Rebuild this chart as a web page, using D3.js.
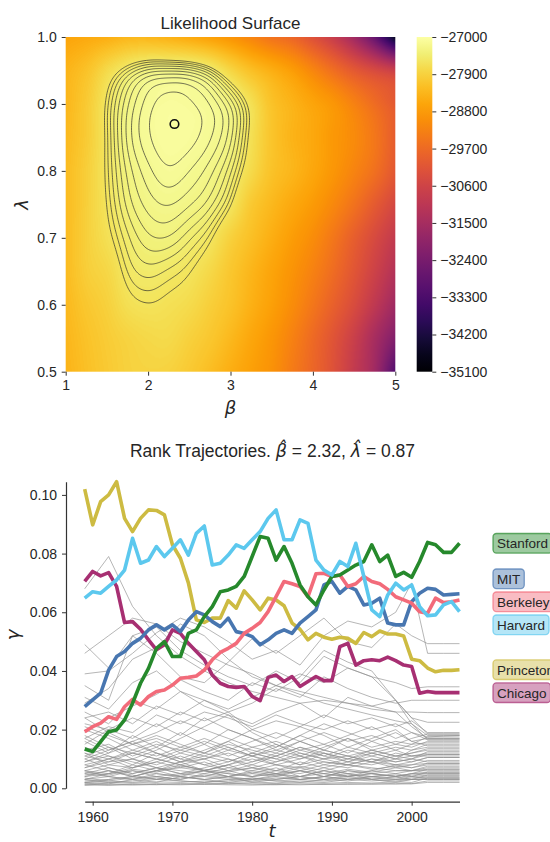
<!DOCTYPE html>
<html><head><meta charset="utf-8">
<script src="https://cdn.jsdelivr.net/npm/d3@7"></script>
<style>
body{margin:0;background:#fff;}
svg text{font-family:"Liberation Sans",Arial,sans-serif;fill:#262626;}
.math{font-family:"DejaVu Sans",sans-serif;font-style:italic;}
</style></head><body>
<svg id="chart" width="550" height="842" xmlns="http://www.w3.org/2000/svg"></svg>
<script>
// ================= DATA =================
// --- Likelihood surface (log-likelihood read from the colour field) ---
const betaGrid   = [1,1.25,1.5,1.75,2,2.25,2.5,2.75,3,3.25,3.5,3.75,4,4.25,4.5,4.75,5];
const lambdaGrid = [0.5,0.55,0.6,0.65,0.7,0.75,0.8,0.85,0.9,0.95,1.0];
// one row per lambda (0.5 .. 1.0), one column per beta (1 .. 5)
const logLik = [
 [-28377,-28175,-28013,-27891,-27850,-27875,-28013,-28215,-28458,-28701,-28944,-29349,-29754,-30240,-30888,-31617,-33156],
 [-28337,-28134,-27972,-27850,-27770,-27750,-27891,-28053,-28296,-28580,-28863,-29228,-29673,-30159,-30726,-31455,-32225],
 [-28296,-28050,-27891,-27665,-27602,-27650,-27730,-27920,-28134,-28418,-28701,-29025,-29430,-29876,-30362,-30969,-31617],
 [-28255,-27940,-27790,-27530,-27460,-27505,-27585,-27770,-28053,-28337,-28620,-28904,-29228,-29633,-30119,-30645,-31212],
 [-28255,-27910,-27657,-27448,-27335,-27325,-27420,-27560,-27885,-28175,-28458,-28742,-29025,-29430,-29916,-30402,-30888],
 [-28255,-27920,-27590,-27355,-27245,-27208,-27260,-27350,-27565,-28010,-28296,-28540,-28782,-29106,-29511,-29997,-30483],
 [-28255,-27930,-27560,-27305,-27178,-27110,-27160,-27247,-27415,-27745,-28134,-28337,-28580,-28863,-29187,-29552,-30078],
 [-28290,-27980,-27555,-27246,-27112,-27056,-27076,-27148,-27297,-27655,-28100,-28370,-28560,-28830,-29065,-29430,-29957],
 [-28337,-28000,-27555,-27275,-27130,-27070,-27095,-27155,-27315,-27650,-28134,-28377,-28620,-28863,-29228,-29633,-30038],
 [-28377,-28134,-27750,-27470,-27310,-27285,-27300,-27450,-27810,-28175,-28458,-28742,-29147,-29592,-30038,-30402,-30726],
 [-28620,-28540,-28458,-28337,-28337,-28418,-28540,-28701,-28904,-29187,-29511,-29754,-30240,-30807,-31617,-32832,-34650]
];
const contourLevels = [-27600,-27545,-27490,-27435,-27380,-27325,-27270,-27215,-27160,-27105];
const colorDomain   = [-35100,-27000];
const colorbarTicks = [-27000,-27900,-28800,-29700,-30600,-31500,-32400,-33300,-34200,-35100];
const betaTicks     = [1,2,3,4,5];
const lambdaTicks   = [0.5,0.6,0.7,0.8,0.9,1.0];
const mle = {beta:2.32, lambda:0.87};

// --- Rank trajectories ---
const years = [1959,1960,1961,1962,1963,1964,1965,1966,1967,1968,1969,1970,1971,1972,1973,1974,1975,1976,1977,1978,1979,1980,1981,1982,1983,1984,1985,1986,1987,1988,1989,1990,1991,1992,1993,1994,1995,1996,1997,1998,1999,2000,2001,2002,2003,2004,2005,2006];
const yearTicks = [1960,1970,1980,1990,2000];
const gammaTicks = [0,0.02,0.04,0.06,0.08,0.10];
const schools = ["Stanford","MIT","Berkeley","Harvard","Princeton","Chicago"];
const schoolColors = ["#26892c","#4876b0","#f26b7a","#5cc8ee","#cdbb42","#a72f72"];
const stanford  = [0.0134,0.0125,0.0159,0.0193,0.0199,0.0233,0.0290,0.0358,0.0409,0.0477,0.0500,0.0449,0.0449,0.0528,0.0540,0.0585,0.0619,0.0670,0.0676,0.0688,0.0722,0.0790,0.0858,0.0852,0.0778,0.0824,0.0767,0.0693,0.0653,0.0625,0.0676,0.0722,0.0727,0.0744,0.0761,0.0773,0.0830,0.0773,0.0795,0.0722,0.0736,0.0719,0.0773,0.0838,0.0830,0.0804,0.0804,0.0835];
const mit       = [0.0278,0.0301,0.0324,0.0403,0.0449,0.0466,0.0494,0.0511,0.0540,0.0557,0.0540,0.0557,0.0534,0.0574,0.0602,0.0591,0.0568,0.0551,0.0580,0.0534,0.0528,0.0517,0.0489,0.0506,0.0528,0.0540,0.0528,0.0563,0.0585,0.0608,0.0693,0.0705,0.0665,0.0688,0.0676,0.0625,0.0631,0.0648,0.0563,0.0557,0.0557,0.0636,0.0665,0.0682,0.0678,0.0659,0.0661,0.0663];
const berkeley  = [0.0193,0.0210,0.0222,0.0244,0.0235,0.0278,0.0303,0.0284,0.0313,0.0330,0.0335,0.0352,0.0375,0.0378,0.0383,0.0403,0.0438,0.0463,0.0477,0.0494,0.0528,0.0545,0.0565,0.0602,0.0653,0.0705,0.0697,0.0688,0.0653,0.0731,0.0733,0.0722,0.0727,0.0688,0.0697,0.0722,0.0705,0.0697,0.0678,0.0653,0.0642,0.0631,0.0602,0.0597,0.0648,0.0633,0.0636,0.0642];
const harvard   = [0.0648,0.0670,0.0665,0.0688,0.0710,0.0744,0.0852,0.0767,0.0778,0.0824,0.0790,0.0818,0.0847,0.0795,0.0869,0.0894,0.0761,0.0767,0.0795,0.0830,0.0818,0.0847,0.0875,0.0920,0.0949,0.0847,0.0847,0.0915,0.0903,0.0778,0.0744,0.0727,0.0773,0.0756,0.0835,0.0722,0.0608,0.0585,0.0659,0.0699,0.0676,0.0693,0.0619,0.0588,0.0591,0.0625,0.0636,0.0602];
const princeton = [0.1020,0.0898,0.0977,0.1000,0.1045,0.0920,0.0875,0.0920,0.0949,0.0947,0.0932,0.0830,0.0784,0.0700,0.0574,0.0565,0.0580,0.0580,0.0640,0.0614,0.0673,0.0642,0.0608,0.0648,0.0642,0.0622,0.0563,0.0542,0.0506,0.0528,0.0515,0.0508,0.0515,0.0511,0.0494,0.0531,0.0517,0.0536,0.0526,0.0526,0.0519,0.0440,0.0435,0.0410,0.0397,0.0402,0.0402,0.0404];
const chicago   = [0.0705,0.0739,0.0724,0.0735,0.0688,0.0565,0.0568,0.0542,0.0506,0.0472,0.0489,0.0540,0.0528,0.0494,0.0466,0.0438,0.0386,0.0358,0.0347,0.0344,0.0347,0.0313,0.0299,0.0378,0.0386,0.0364,0.0381,0.0347,0.0364,0.0381,0.0367,0.0367,0.0483,0.0494,0.0420,0.0435,0.0438,0.0435,0.0447,0.0435,0.0420,0.0415,0.0324,0.0330,0.0326,0.0326,0.0326,0.0326];
const schoolSeries = [stanford,mit,berkeley,harvard,princeton,chicago];
const drawOrder = ["Princeton","Chicago","MIT","Berkeley","Stanford","Harvard"];

// other departments (grey), sampled years
const grayYears = [1959,1962,1965,1968,1971,1974,1977,1980,1983,1986,1989,1992,1995,1998,2000,2002,2004,2006];
const grayLines = [
 [0.068,0.079,0.062,0.052,0.045,0.040,0.036,0.033,0.031,0.029,0.030,0.029,0.027,0.026,0.026,0.0258,0.0258,0.0258],
 [0.049,0.041,0.052,0.046,0.038,0.036,0.043,0.051,0.046,0.052,0.058,0.050,0.048,0.056,0.052,0.0493,0.0493,0.0493],
 [0.039,0.040,0.046,0.053,0.058,0.055,0.050,0.044,0.047,0.042,0.052,0.057,0.055,0.060,0.070,0.046,0.046,0.046],
 [0.035,0.030,0.052,0.055,0.047,0.042,0.038,0.035,0.040,0.036,0.045,0.041,0.038,0.036,0.034,0.0346,0.0346,0.0346],
 [0.031,0.027,0.036,0.040,0.033,0.030,0.026,0.029,0.034,0.031,0.038,0.034,0.031,0.029,0.030,0.030,0.030,0.030],
 [0.026,0.022,0.030,0.027,0.033,0.028,0.025,0.022,0.026,0.029,0.024,0.031,0.028,0.030,0.024,0.0225,0.0225,0.0225],
 [0.022,0.020,0.024,0.021,0.026,0.023,0.026,0.020,0.023,0.021,0.025,0.022,0.024,0.021,0.023,0.019,0.019,0.019],
 [0.029,0.034,0.044,0.048,0.056,0.052,0.044,0.038,0.035,0.032,0.029,0.027,0.025,0.023,0.022,0.018,0.018,0.018],
 [0.019,0.024,0.028,0.032,0.037,0.033,0.030,0.036,0.033,0.038,0.047,0.043,0.040,0.030,0.024,0.0185,0.0185,0.0185],
 [0.017,0.021,0.019,0.025,0.022,0.026,0.024,0.021,0.025,0.022,0.020,0.023,0.020,0.022,0.019,0.0175,0.0175,0.0175],
 [0.046,0.052,0.058,0.056,0.050,0.046,0.042,0.039,0.035,0.033,0.031,0.029,0.028,0.026,0.021,0.017,0.017,0.017],
 [0.024,0.026,0.022,0.028,0.025,0.030,0.027,0.031,0.035,0.039,0.036,0.041,0.038,0.030,0.022,0.0165,0.0165,0.0165],
 [0.020,0.017,0.013,0.016,0.012,0.015,0.011,0.014,0.012,0.016,0.013,0.017,0.014,0.016,0.015,0.0175,0.0178,0.018],
 [0.016,0.012,0.018,0.014,0.019,0.015,0.020,0.017,0.014,0.018,0.015,0.012,0.016,0.019,0.016,0.017,0.017,0.017],
 [0.013,0.015,0.011,0.014,0.010,0.013,0.016,0.012,0.015,0.011,0.014,0.017,0.013,0.015,0.014,0.016,0.016,0.016],
 [0.011,0.009,0.012,0.010,0.013,0.011,0.009,0.012,0.010,0.013,0.011,0.014,0.012,0.010,0.013,0.015,0.015,0.015],
 [0.009,0.011,0.008,0.012,0.009,0.010,0.012,0.009,0.011,0.008,0.012,0.010,0.013,0.011,0.012,0.0135,0.0135,0.0135],
 [0.007,0.009,0.010,0.008,0.011,0.008,0.010,0.007,0.009,0.011,0.008,0.010,0.009,0.012,0.011,0.012,0.012,0.012],
 [0.006,0.005,0.008,0.006,0.007,0.009,0.006,0.008,0.006,0.009,0.007,0.009,0.008,0.010,0.009,0.0105,0.0105,0.0105],
 [0.005,0.007,0.005,0.007,0.006,0.005,0.007,0.006,0.008,0.006,0.008,0.007,0.009,0.007,0.008,0.0095,0.0095,0.0095],
 [0.004,0.005,0.006,0.004,0.005,0.006,0.005,0.004,0.006,0.005,0.007,0.005,0.006,0.008,0.007,0.0085,0.0085,0.0085],
 [0.003,0.004,0.003,0.005,0.004,0.003,0.004,0.005,0.004,0.006,0.004,0.006,0.005,0.006,0.006,0.0075,0.0075,0.0075],
 [0.0025,0.003,0.004,0.003,0.0035,0.004,0.003,0.0035,0.003,0.004,0.005,0.004,0.005,0.004,0.005,0.0065,0.0065,0.0065],
 [0.002,0.0025,0.002,0.003,0.0025,0.002,0.003,0.0025,0.0035,0.003,0.004,0.003,0.004,0.0045,0.004,0.0055,0.0055,0.0055],
 [0.0015,0.002,0.0018,0.0022,0.002,0.0025,0.002,0.0022,0.0018,0.0025,0.002,0.003,0.0025,0.003,0.003,0.0045,0.0045,0.0045],
 [0.0012,0.0015,0.0013,0.0016,0.0014,0.0017,0.0015,0.0018,0.0016,0.0019,0.0017,0.002,0.0018,0.0022,0.002,0.0035,0.0035,0.0035],
 [0.001,0.0012,0.0011,0.0013,0.0012,0.0014,0.0012,0.0011,0.0013,0.0012,0.0014,0.0013,0.0015,0.0014,0.0016,0.0025,0.0025,0.0025],
 [0.018,0.014,0.010,0.007,0.009,0.006,0.008,0.005,0.007,0.004,0.006,0.005,0.004,0.005,0.004,0.0045,0.0045,0.0045],
 [0.021,0.018,0.015,0.012,0.010,0.008,0.006,0.007,0.005,0.006,0.004,0.005,0.003,0.004,0.003,0.003,0.003,0.003],
 [0.015,0.020,0.017,0.022,0.018,0.024,0.020,0.017,0.013,0.011,0.009,0.008,0.007,0.006,0.006,0.0065,0.0065,0.0065],
 [0.012,0.008,0.010,0.013,0.017,0.021,0.025,0.019,0.015,0.012,0.010,0.011,0.009,0.008,0.008,0.0085,0.0085,0.0085],
 [0.008,0.006,0.004,0.006,0.009,0.012,0.016,0.020,0.017,0.021,0.018,0.014,0.017,0.020,0.016,0.0145,0.0145,0.0145],
 [0.010,0.013,0.016,0.019,0.023,0.020,0.017,0.014,0.016,0.013,0.015,0.018,0.021,0.017,0.019,0.0165,0.0165,0.0165],
 [0.005,0.004,0.006,0.005,0.004,0.006,0.008,0.011,0.014,0.018,0.022,0.019,0.016,0.013,0.011,0.011,0.011,0.011],
 [0.003,0.005,0.007,0.010,0.008,0.006,0.005,0.004,0.005,0.003,0.004,0.006,0.005,0.004,0.005,0.005,0.005,0.005],
 [0.014,0.011,0.009,0.007,0.005,0.007,0.009,0.012,0.010,0.008,0.010,0.013,0.011,0.009,0.010,0.0125,0.0125,0.0125],
 [0.007,0.010,0.013,0.011,0.014,0.017,0.014,0.011,0.008,0.010,0.012,0.009,0.012,0.014,0.013,0.014,0.014,0.014],
 [0.002,0.0015,0.003,0.002,0.004,0.003,0.002,0.003,0.0025,0.002,0.003,0.0025,0.0035,0.003,0.0035,0.004,0.004,0.004],
 [0.0045,0.006,0.0045,0.003,0.0045,0.006,0.004,0.0055,0.0045,0.006,0.005,0.0065,0.0055,0.007,0.006,0.007,0.007,0.007],
 [0.009,0.012,0.015,0.018,0.015,0.012,0.010,0.008,0.011,0.014,0.011,0.009,0.011,0.013,0.015,0.0155,0.0155,0.0155],
 [0.006,0.008,0.007,0.009,0.007,0.006,0.008,0.010,0.008,0.007,0.009,0.008,0.010,0.009,0.010,0.009,0.009,0.009],
 [0.0035,0.0025,0.0035,0.004,0.003,0.0045,0.0035,0.003,0.0045,0.004,0.003,0.0045,0.004,0.0035,0.0045,0.005,0.005,0.005],
 [0.012,0.010,0.007,0.009,0.012,0.010,0.013,0.011,0.009,0.012,0.010,0.008,0.010,0.008,0.009,0.0105,0.0105,0.0105],
 [0.008,0.010,0.012,0.010,0.008,0.010,0.007,0.009,0.012,0.010,0.013,0.011,0.009,0.011,0.010,0.0115,0.0115,0.0115],
 [0.004,0.006,0.004,0.006,0.008,0.006,0.004,0.006,0.005,0.007,0.005,0.004,0.006,0.005,0.006,0.006,0.006,0.006],
 [0.010,0.007,0.005,0.007,0.005,0.004,0.006,0.004,0.005,0.004,0.006,0.004,0.005,0.004,0.005,0.0055,0.0055,0.0055],
 [0.006,0.004,0.003,0.004,0.003,0.005,0.004,0.003,0.004,0.003,0.004,0.003,0.004,0.003,0.004,0.0035,0.0035,0.0035],
 [0.002,0.003,0.004,0.006,0.004,0.003,0.004,0.002,0.003,0.004,0.003,0.004,0.003,0.002,0.003,0.003,0.003,0.003],
 [0.017,0.013,0.016,0.012,0.009,0.011,0.014,0.011,0.013,0.016,0.013,0.011,0.013,0.011,0.012,0.013,0.013,0.013],
 [0.011,0.014,0.012,0.015,0.013,0.016,0.013,0.016,0.019,0.016,0.019,0.016,0.018,0.015,0.017,0.0185,0.0185,0.0185],
 [0.0055,0.0045,0.0065,0.0055,0.0075,0.0065,0.0055,0.007,0.006,0.0075,0.006,0.008,0.0065,0.0075,0.007,0.008,0.008,0.008],
 [0.0015,0.001,0.0015,0.0012,0.0016,0.0013,0.0017,0.0014,0.0012,0.0015,0.0013,0.0016,0.0014,0.0017,0.0015,0.002,0.002,0.002],
 [0.024,0.019,0.015,0.017,0.014,0.012,0.015,0.013,0.011,0.014,0.012,0.010,0.012,0.010,0.011,0.0115,0.0115,0.0115],
 [0.003,0.002,0.0025,0.0035,0.0025,0.002,0.0025,0.0035,0.0025,0.003,0.0025,0.0035,0.003,0.0025,0.003,0.0035,0.0035,0.0035]
];

// ================= DRAWING =================
const svg = d3.select("#chart");
const ink = "#262626";

// ---------- Top panel: likelihood surface ----------
const xB = d3.scaleLinear().domain([1,5]).range([65.7,395.3]);
const yL = d3.scaleLinear().domain([0.5,1.0]).range([371.7,37]);

const nc = betaGrid.length, nr = lambdaGrid.length;
function gridAt(i,j){
  if(i<0) return 2*gridAt(0,j)-gridAt(1,j);
  if(i>=nc) return 2*gridAt(nc-1,j)-gridAt(nc-2,j);
  if(j<0) return 2*gridAt(i,0)-gridAt(i,1);
  if(j>=nr) return 2*gridAt(i,nr-1)-gridAt(i,nr-2);
  return logLik[j][i];
}
function cr(p0,p1,p2,p3,t){return p1+0.5*t*(p2-p0+t*(2*p0-5*p1+4*p2-p3+t*(3*(p1-p2)+p3-p0)));}
const bStep = betaGrid[1]-betaGrid[0], lStep = lambdaGrid[1]-lambdaGrid[0];
function surf(b,l){
  const gx=(b-betaGrid[0])/bStep, gy=(l-lambdaGrid[0])/lStep;
  const ix=Math.max(0,Math.min(nc-2,Math.floor(gx))), iy=Math.max(0,Math.min(nr-2,Math.floor(gy)));
  const tx=gx-ix, ty=gy-iy, r=[];
  for(let k=-1;k<=2;k++) r.push(cr(gridAt(ix-1,iy+k),gridAt(ix,iy+k),gridAt(ix+1,iy+k),gridAt(ix+2,iy+k),tx));
  return cr(r[0],r[1],r[2],r[3],ty);
}

// raster of the surface
const hx0=xB(betaGrid[0]), hx1=xB(betaGrid[nc-1]), hy0=yL(lambdaGrid[nr-1]), hy1=yL(lambdaGrid[0]);
const cw=Math.round(hx1-hx0), chh=Math.round(hy1-hy0);
const canvas=document.createElement("canvas"); canvas.width=cw; canvas.height=chh;
const ctx=canvas.getContext("2d"); const im=ctx.createImageData(cw,chh);
const lut=d3.range(256).map(i=>d3.rgb(d3.interpolateInferno(i/255)));
for(let py=0;py<chh;py++){
  const l=yL.invert(hy0+(py+0.5)*(hy1-hy0)/chh);
  for(let px=0;px<cw;px++){
    const b=xB.invert(hx0+(px+0.5)*(hx1-hx0)/cw);
    let t=(surf(b,l)-colorDomain[0])/(colorDomain[1]-colorDomain[0]);
    t=Math.max(0,Math.min(1,t));
    const c=lut[Math.round(t*255)], o=4*(py*cw+px);
    im.data[o]=c.r; im.data[o+1]=c.g; im.data[o+2]=c.b; im.data[o+3]=255;
  }
}
ctx.putImageData(im,0,0);
svg.append("image").attr("x",hx0).attr("y",hy0).attr("width",hx1-hx0).attr("height",hy1-hy0)
  .attr("preserveAspectRatio","none").attr("href",canvas.toDataURL());

// contour lines (on a finely resampled, lightly smoothed copy of the surface)
const nx=321, ny=201;
const b0=betaGrid[0], l0=lambdaGrid[0];
const db=(betaGrid[nc-1]-b0)/(nx-1), dl=(lambdaGrid[nr-1]-l0)/(ny-1);
const vals=new Float64Array(nx*ny);
for(let j=0;j<ny;j++) for(let i=0;i<nx;i++) vals[i+j*nx]=surf(b0+i*db,l0+j*dl);
function boxBlur(a,w,h,r){
  const tmp=new Float64Array(a.length);
  for(let pass=0;pass<3;pass++){
    for(let j=0;j<h;j++) for(let i=0;i<w;i++){let s=0,n=0;for(let k=-r;k<=r;k++){const ii=i+k;if(ii>=0&&ii<w){s+=a[ii+j*w];n++;}}tmp[i+j*w]=s/n;}
    for(let j=0;j<h;j++) for(let i=0;i<w;i++){let s=0,n=0;for(let k=-r;k<=r;k++){const jj=j+k;if(jj>=0&&jj<h){s+=tmp[i+jj*w];n++;}}a[i+j*w]=s/n;}
  }
}
boxBlur(vals,nx,ny,5);
const cont=d3.contours().size([nx,ny]).thresholds(contourLevels)(vals);
const proj=d3.geoTransform({point(x,y){this.stream.point(xB(b0+(x-0.5)*db),yL(l0+(y-0.5)*dl));}});
svg.append("g").selectAll("path").data(cont).join("path")
  .attr("d",d3.geoPath(proj)).attr("fill","none")
  .attr("stroke","#2a2a2a").attr("stroke-width",0.8).attr("stroke-opacity",0.85);

// maximum-likelihood marker
svg.append("circle").attr("cx",xB(mle.beta)).attr("cy",yL(mle.lambda)).attr("r",4.3)
  .attr("fill","none").attr("stroke","#111").attr("stroke-width",1.6);

// axes of top panel
function styleAxis(g){
  g.selectAll("text").attr("font-size",14).attr("font-family","Liberation Sans, Arial, sans-serif").attr("fill",ink);
  g.selectAll("line").attr("stroke","#333");
}
svg.append("g").attr("transform",`translate(${hx0},0)`)
  .call(d3.axisLeft(yL).tickValues(lambdaTicks).tickFormat(d3.format(".1f")).tickSize(4).tickPadding(5))
  .call(g=>g.select(".domain").remove()).call(styleAxis);
svg.append("g").attr("transform",`translate(0,${hy1})`)
  .call(d3.axisBottom(xB).tickValues(betaTicks).tickFormat(d3.format("d")).tickSize(4).tickPadding(4))
  .call(g=>g.select(".domain").remove()).call(styleAxis);

svg.append("text").attr("x",(hx0+hx1)/2).attr("y",28.5).attr("text-anchor","middle")
  .attr("font-size",17).text("Likelihood Surface");
svg.append("text").attr("class","math").attr("x",(hx0+hx1)/2).attr("y",414).attr("text-anchor","middle")
  .attr("font-size",18).text("β");
svg.append("text").attr("class","math").attr("transform",`translate(28,${(hy0+hy1)/2}) rotate(-90)`)
  .attr("text-anchor","middle").attr("font-size",18).text("λ");

// colour bar
const cbX=416.7, cbW=15.6;
const cbScale=d3.scaleLinear().domain(colorDomain).range([hy1,hy0]);
const grad=svg.append("defs").append("linearGradient").attr("id","cbgrad")
  .attr("x1",0).attr("y1",1).attr("x2",0).attr("y2",0);
grad.selectAll("stop").data(d3.range(0,1.0001,0.05)).join("stop")
  .attr("offset",d=>d).attr("stop-color",d=>d3.interpolateInferno(d));
svg.append("rect").attr("x",cbX).attr("y",hy0).attr("width",cbW).attr("height",hy1-hy0).attr("fill","url(#cbgrad)");
svg.append("g").attr("transform",`translate(${cbX+cbW},0)`)
  .call(d3.axisRight(cbScale).tickValues(colorbarTicks).tickFormat(d3.format("d")).tickSize(4).tickPadding(4))
  .call(g=>g.select(".domain").remove()).call(styleAxis);

// ---------- Bottom panel: rank trajectories ----------
const allVals=schoolSeries.flat().concat(grayLines.flat());
const yMax=d3.max(allVals);
const xT=d3.scaleLinear().domain([years[0],years[years.length-1]]).range([84.7,459.5]);
const yG=d3.scaleLinear().domain([0,yMax]).range([788.3,788.3-yMax*2934]);

const grayLine=d3.line().x((d,i)=>xT(grayYears[i])).y(d=>yG(d));
svg.append("g").selectAll("path").data(grayLines).join("path")
  .attr("d",grayLine).attr("fill","none").attr("stroke","#8e8e8e")
  .attr("stroke-width",0.9).attr("stroke-opacity",0.72);

const schoolLine=d3.line().x((d,i)=>xT(years[i])).y(d=>yG(d));
drawOrder.forEach(name=>{
  const k=schools.indexOf(name);
  svg.append("path").attr("d",schoolLine(schoolSeries[k])).attr("fill","none")
    .attr("stroke",schoolColors[k]).attr("stroke-width",3.6).attr("stroke-linejoin","round");
});

// axes (offset spines)
svg.append("g").attr("transform","translate(66,0)")
  .call(d3.axisLeft(yG).tickValues(gammaTicks).tickFormat(d3.format(".2f")).tickSize(4).tickSizeOuter(0).tickPadding(5))
  .call(styleAxis).call(g=>g.select(".domain").attr("stroke","#333").attr("stroke-width",1.2));
svg.append("g").attr("transform","translate(0,801.7)")
  .call(d3.axisBottom(xT).tickValues(yearTicks).tickFormat(d3.format("d")).tickSize(4).tickSizeOuter(0).tickPadding(6))
  .call(styleAxis).call(g=>g.select(".domain").attr("stroke","#333").attr("stroke-width",1.2));

svg.append("text").attr("class","math").attr("x",(xT.range()[0]+xT.range()[1])/2).attr("y",837)
  .attr("text-anchor","middle").attr("font-size",18).text("t");
svg.append("text").attr("class","math").attr("transform",`translate(19,${(yG(0)+yG(yMax))/2}) rotate(-90)`)
  .attr("text-anchor","middle").attr("font-size",18).text("γ");

// title with estimates
const tt=svg.append("text").attr("x",272.5).attr("y",457).attr("text-anchor","middle")
  .attr("font-size",17.5).style("white-space","pre");
tt.append("tspan").text("Rank Trajectories. ");
tt.append("tspan").attr("class","math").text("β\u0302");
tt.append("tspan").text(` = ${mle.beta.toFixed(2)}, `);
tt.append("tspan").attr("class","math").text("λ\u0302");
tt.append("tspan").text(` = ${mle.lambda.toFixed(2)}`);

// end labels, spread apart to avoid overlap
const labels=schools.map((s,k)=>({name:s,color:schoolColors[k],y:yG(schoolSeries[k][schoolSeries[k].length-1])}))
  .sort((a,b)=>a.y-b.y);
const minGap=23;
for(let it=0;it<60;it++){
  for(let i=0;i<labels.length-1;i++){
    const gap=labels[i+1].y-labels[i].y;
    if(gap<minGap){const d=(minGap-gap)/2; labels[i].y-=d; labels[i+1].y+=d;}
  }
}
const lg=svg.append("g");
labels.forEach(L=>{
  const g=lg.append("g");
  const t=g.append("text").attr("x",497).attr("y",L.y).attr("dy","0.36em").attr("font-size",13.5).text(L.name);
  const w=t.node().getComputedTextLength();
  g.insert("rect","text").attr("x",493).attr("y",L.y-9.8).attr("width",w+8).attr("height",19.6).attr("rx",3.5)
    .attr("fill",L.color).attr("fill-opacity",0.45).attr("stroke",L.color).attr("stroke-opacity",0.7).attr("stroke-width",1.3);
});
</script>
</body></html>
